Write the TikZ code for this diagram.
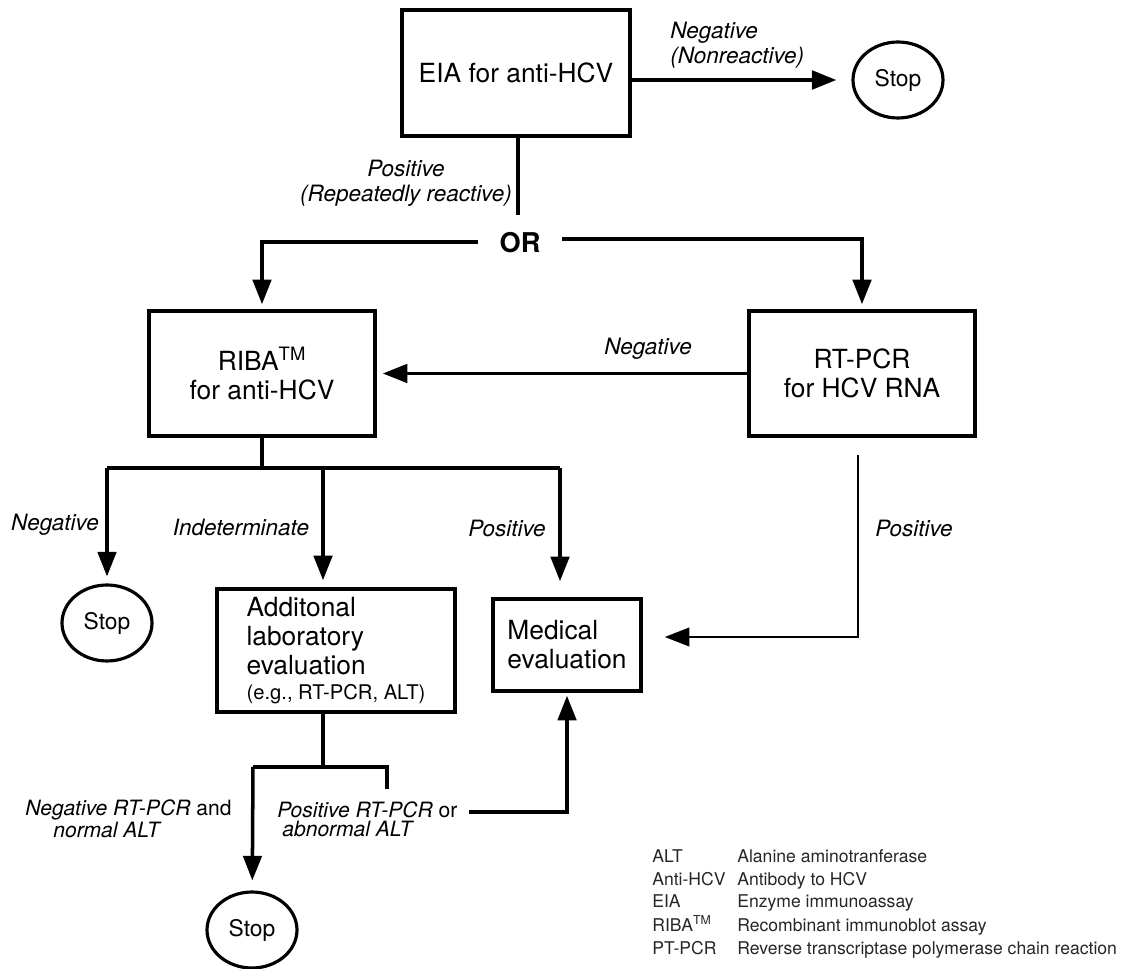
\documentclass[tikz,border=0pt]{standalone}
\usepackage{fontspec}
\setmainfont{TeX Gyre Heros}
\usetikzlibrary{arrows.meta,shapes.geometric}
\tikzset{
	box/.style={draw,line width=2pt,rectangle,inner sep=0pt,align=center,font=\fontsize{15}{16.5}\selectfont},
	stopnode/.style={draw,line width=1.8pt,ellipse,inner sep=0pt,minimum width=1.8cm,minimum height=1.52cm,font=\fontsize{13}{14}\selectfont},
	lab/.style={inner sep=0pt,font=\fontsize{12.8}{14}\selectfont\itshape},
	leg/.style={anchor=base west,inner sep=0pt,text=black!85,font=\fontsize{10}{12}\selectfont},
	wire/.style={line width=2pt},
	arr/.style={-{Triangle[length=14pt,width=10.5pt]}}
}
\begin{document}
\begin{tikzpicture}[x=0.02cm,y=-0.02cm]
			\useasboundingbox (0,0) rectangle (1127,969);
			\node[box,minimum width=4.56cm,minimum height=2.52cm] (eia) at (516,73) {EIA for anti-HCV};
			\node[stopnode] (stopT) at (898,80) {Stop};
			\node[inner sep=0pt,font=\fontsize{15.5}{16}\selectfont\bfseries] (or) at (520,243) {OR};
			\node[box,minimum width=4.52cm,minimum height=2.5cm] (riba) at (262,373.5) {RIBA\textsuperscript{TM}\\for anti-HCV};
			\node[box,minimum width=4.52cm,minimum height=2.5cm] (rtpcr) at (862,373.5) {RT-PCR\\for HCV RNA};
			\node[stopnode] (stopL) at (107,623) {Stop};
			\node[box,minimum width=4.76cm,minimum height=2.46cm,align=left] (add) at (336,650.5) {Additonal\\laboratory\\evaluation\\[-2.5pt]{\fontsize{11.5}{13}\selectfont(e.g., RT-PCR, ALT)}};
			\node[box,minimum width=2.96cm,minimum height=1.84cm,align=left] (med) at (567,645) {Medical\\evaluation};
			\node[stopnode] (stopB) at (252,930) {Stop};
			
			\node[lab,anchor=west,align=left] (lNegT) at (670,45.5) {Negative\\(Nonreactive)};
			\node[lab,align=center] (lPosT) at (406,183.5) {Positive\\(Repeatedly reactive)};
			\node[lab] (lNegM) at (648,349) {Negative};
			\node[lab] (lNegL) at (55,525) {Negative};
			\node[lab] (lInd) at (241,527) {Indeterminate};
			\node[lab] (lPosL) at (507,528) {Positive};
			\node[lab] (lPosR) at (914,528) {Positive};
			\node[lab,anchor=west,align=left,font=\fontsize{12}{11}\selectfont\itshape] (lNegB) at (25,819) {Negative RT-PCR \textup{and}\\\hspace*{0.56cm}normal ALT};
			\node[lab,anchor=west,align=left,font=\fontsize{12}{11}\selectfont\itshape] (lPosB) at (277,819) {Positive RT-PCR \textup{or}\\\hspace*{0.1cm}abnormal ALT};
			
			\foreach \y/\abbr/\desc in {863/ALT/Alanine aminotranferase, 886/Anti-HCV/Antibody to HCV, 908/EIA/Enzyme immunoassay, 931/RIBA\textsuperscript{TM}/Recombinant immunoblot assay, 954/PT-PCR/Reverse transcriptase polymerase chain reaction}
			{
				\node[leg] (a\y) at (652,\y) {\abbr};
				\node[leg] (d\y) at (737,\y) {\desc};
			}
			
			\coordinate (stem) at (518,215);
			\coordinate (orL) at (478,242);
			\coordinate (orR) at (562,239);
			\coordinate (brN) at (107,468);
			\coordinate (brI) at (323,468);
			\coordinate (brP) at (560,468);
			\coordinate (rtJ) at (858,637);
			\coordinate (addJ) at (323,767);
			\coordinate (brNeg) at (253,767);
			\coordinate (brPos) at (387,767);
			\coordinate (posStub) at (387,789);
			\coordinate (medIn) at (469,812);
			
			\draw[wire,arr,line width=2.4pt,shorten >=0.3cm] (eia.east |- stopT) -- (stopT);
			\draw[wire] (eia.south -| stem) -- (stem);
			\draw[wire,arr,shorten >=0.1cm] (orL) -| (riba.north);
			\draw[wire,arr,shorten >=0.1cm] (orR) -| (rtpcr.north);
			\draw[wire,arr,shorten >=0.12cm] (rtpcr.west) -- (riba.east);
			\draw[wire] (riba.south) -- (riba.south |- brN);
			\draw[wire] (brN) -- (brP);
			\draw[wire,arr,shorten >=0.14cm] (brN) -- (stopL);
			\draw[wire,arr,shorten >=0.14cm] (brI) -- (brI |- add.north);
			\draw[wire,arr,shorten >=0.32cm] (brP) -- (brP |- med.north);
			\draw[wire,line width=1.5pt,arr,shorten <=0.34cm,shorten >=0.44cm] (rtpcr.south -| rtJ) -- (rtJ) -- (rtJ -| med.east);
			\draw[wire] (add.south -| addJ) -- (addJ);
			\draw[wire] (brNeg) -- (brPos) -- (posStub);
			\draw[wire,arr,shorten >=0.2cm] (brNeg) -- (stopB);
			\draw[wire,arr,shorten >=0.06cm] (medIn) -| (med.south);
		\end{tikzpicture}
\end{document}
